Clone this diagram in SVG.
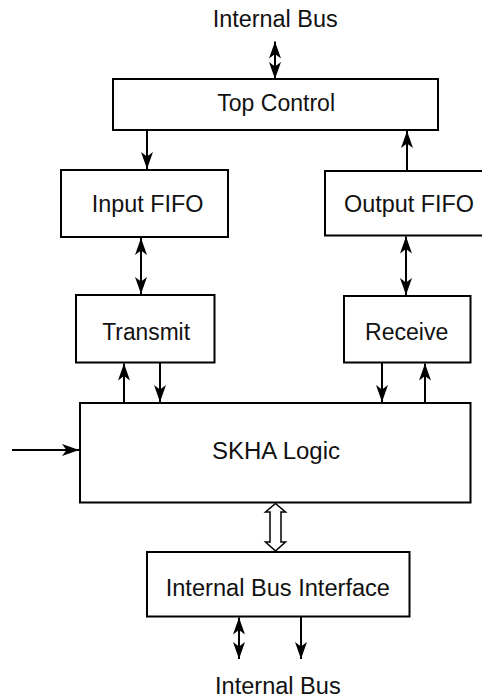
<svg xmlns="http://www.w3.org/2000/svg" width="482" height="700" viewBox="0 0 482 700">
<style>
.box{fill:#fff;stroke:#000;stroke-width:2}
.lbl{font-family:"Liberation Sans",Arial,Helvetica,sans-serif;font-size:23px;fill:#111}
.ln{fill:none;stroke:#000;stroke-width:2}
.one{marker-end:url(#ah)}
.two{marker-start:url(#ah);marker-end:url(#ah)}
</style>
<defs>
<marker id="ah" markerUnits="userSpaceOnUse" viewBox="-18 -7 19 14" refX="0" refY="0" markerWidth="19" markerHeight="14" orient="auto-start-reverse">
<path d="M0,0 L-17,-6 L-12.5,0 L-17,6 Z" fill="#000"/>
</marker>
</defs>
<rect width="482" height="700" fill="#fff"/>
<text class="lbl" x="212.7" y="26.7" textLength="125" lengthAdjust="spacingAndGlyphs">Internal Bus</text>
<g id="top-control">
<rect class="box" x="113" y="79" width="325" height="51"/>
<text class="lbl" x="217.3" y="111" textLength="117.7" lengthAdjust="spacingAndGlyphs">Top Control</text>
</g>
<g id="input-fifo">
<rect class="box" x="61" y="170" width="167" height="67"/>
<text class="lbl" x="91.7" y="212" textLength="111.7" lengthAdjust="spacingAndGlyphs">Input FIFO</text>
</g>
<g id="output-fifo">
<rect class="box" x="325" y="171" width="165" height="64.5"/>
<text class="lbl" x="344" y="212" textLength="130" lengthAdjust="spacingAndGlyphs">Output FIFO</text>
</g>
<g id="transmit">
<rect class="box" x="76" y="295" width="138.5" height="67.5"/>
<text class="lbl" x="102.3" y="340" textLength="87.7" lengthAdjust="spacingAndGlyphs">Transmit</text>
</g>
<g id="receive">
<rect class="box" x="344" y="296" width="126.5" height="66.5"/>
<text class="lbl" x="365" y="340" textLength="83.3" lengthAdjust="spacingAndGlyphs">Receive</text>
</g>
<g id="skha-logic">
<rect class="box" x="80" y="403" width="390.5" height="99.5"/>
<text class="lbl" x="212" y="458.5" textLength="128" lengthAdjust="spacingAndGlyphs">SKHA Logic</text>
</g>
<g id="internal-bus-interface">
<rect class="box" x="147" y="552" width="262.5" height="64.5"/>
<text class="lbl" x="165.7" y="595.5" textLength="224.3" lengthAdjust="spacingAndGlyphs">Internal Bus Interface</text>
</g>
<text class="lbl" x="215" y="694" textLength="125.7" lengthAdjust="spacingAndGlyphs">Internal Bus</text>
<g id="connectors">
<line class="ln two" x1="275" y1="41.5" x2="275" y2="79"/>
<line class="ln one" x1="147" y1="130" x2="147" y2="169"/>
<line class="ln one" x1="407" y1="171" x2="407" y2="131"/>
<line class="ln two" x1="141" y1="238" x2="141" y2="294"/>
<line class="ln two" x1="406" y1="236.5" x2="406" y2="295"/>
<line class="ln one" x1="124" y1="403" x2="124" y2="363.5"/>
<line class="ln one" x1="160" y1="363" x2="160" y2="402"/>
<line class="ln one" x1="382" y1="363" x2="382" y2="402"/>
<line class="ln one" x1="425" y1="403" x2="425" y2="363.5"/>
<line class="ln one" x1="12" y1="450" x2="79" y2="450"/>
<path d="M275.5,503.5 L285.5,512 L281,512 L281,542 L285.5,542 L275.5,551 L265.5,542 L270,542 L270,512 L265.5,512 Z" fill="#fff" stroke="#000" stroke-width="1.5"/>
<line class="ln two" x1="239" y1="617.5" x2="239" y2="659"/>
<line class="ln one" x1="301" y1="617" x2="301" y2="659"/>
</g>
</svg>
